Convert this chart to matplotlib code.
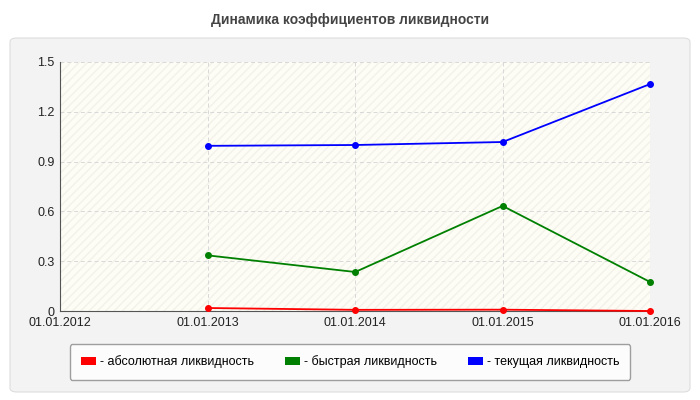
import matplotlib
matplotlib.use("Agg")
import matplotlib.pyplot as plt
from matplotlib.patches import FancyBboxPatch, Rectangle
import datetime as dt

plt.rcParams['font.family'] = ['Liberation Sans', 'DejaVu Sans']

dates = ["01.01.2013", "01.01.2014", "01.01.2015", "01.01.2016"]
tick_labels = ["01.01.2012", "01.01.2013", "01.01.2014", "01.01.2015", "01.01.2016"]
absolute = [0.018, 0.007, 0.008, 0.0]
quick = [0.335, 0.235, 0.633, 0.175]
current = [0.995, 1.0, 1.018, 1.367]
names = ["- абсолютная ликвидность", "- быстрая ликвидность", "- текущая ликвидность"]
colors = ["#ff0000", "#008000", "#0000ff"]

def pd(s):
    return dt.datetime.strptime(s, "%d.%m.%Y")

fig = plt.figure(figsize=(7, 4), dpi=100)
fig.patch.set_facecolor("white")
bg = FancyBboxPatch((10/700, 8/400), 680/700, 354/400, boxstyle="round,pad=0,rounding_size=0.01",
                    transform=fig.transFigure, facecolor="#f3f3f3", edgecolor="#dddddd", lw=0.8, zorder=-10)
fig.patches.append(bg)
fig.text(0.5, 0.95, "Динамика коэффициентов ликвидности", ha="center", va="center",
         fontsize=10, fontweight="bold", color="#444444")

ax = fig.add_axes([60/700, 89/400, 590/700, 249/400], zorder=2)
ax.set_facecolor("#fdfdf6")
ax.add_patch(Rectangle((0, 0), 1, 1, transform=ax.transAxes, facecolor="none", hatch="////",
                       edgecolor="#f2f2ea", lw=0, zorder=0))
xs = [pd(d) for d in dates]
for vals, c in zip([absolute, quick, current], colors):
    ax.plot(xs, vals, color=c, lw=1.3, marker="o", ms=4, zorder=3, clip_on=False)
ax.set_xlim(pd(tick_labels[0]), pd(tick_labels[-1]))
ax.set_ylim(0, 1.5)
ax.set_xticks([pd(t) for t in tick_labels])
ax.set_xticklabels(tick_labels)
ax.set_yticks([0, 0.3, 0.6, 0.9, 1.2, 1.5])
ax.set_yticklabels(["0", "0.3", "0.6", "0.9", "1.2", "1.5"])
ax.tick_params(labelsize=9, colors="#222222", length=0, pad=4)
ax.grid(True, color="#d8d8d8", ls=(0, (4, 3)), lw=0.7)
for s in ["top", "right"]:
    ax.spines[s].set_visible(False)
for s in ["left", "bottom"]:
    ax.spines[s].set_color("#555555")
    ax.spines[s].set_linewidth(0.8)

handles = [Rectangle((0, 0), 1, 1, facecolor=c, edgecolor="none") for c in colors]
leg = fig.legend(handles, names, loc="center", bbox_to_anchor=(350/700, 38/400), ncol=3,
                 fontsize=9, frameon=True, fancybox=True, handlelength=1.2, handleheight=0.6,
                 columnspacing=2.5, handletextpad=0.3, borderpad=0.9)
leg.get_frame().set_facecolor("white")
leg.get_frame().set_edgecolor("#888888")
fig.savefig("out.png", dpi=100)
